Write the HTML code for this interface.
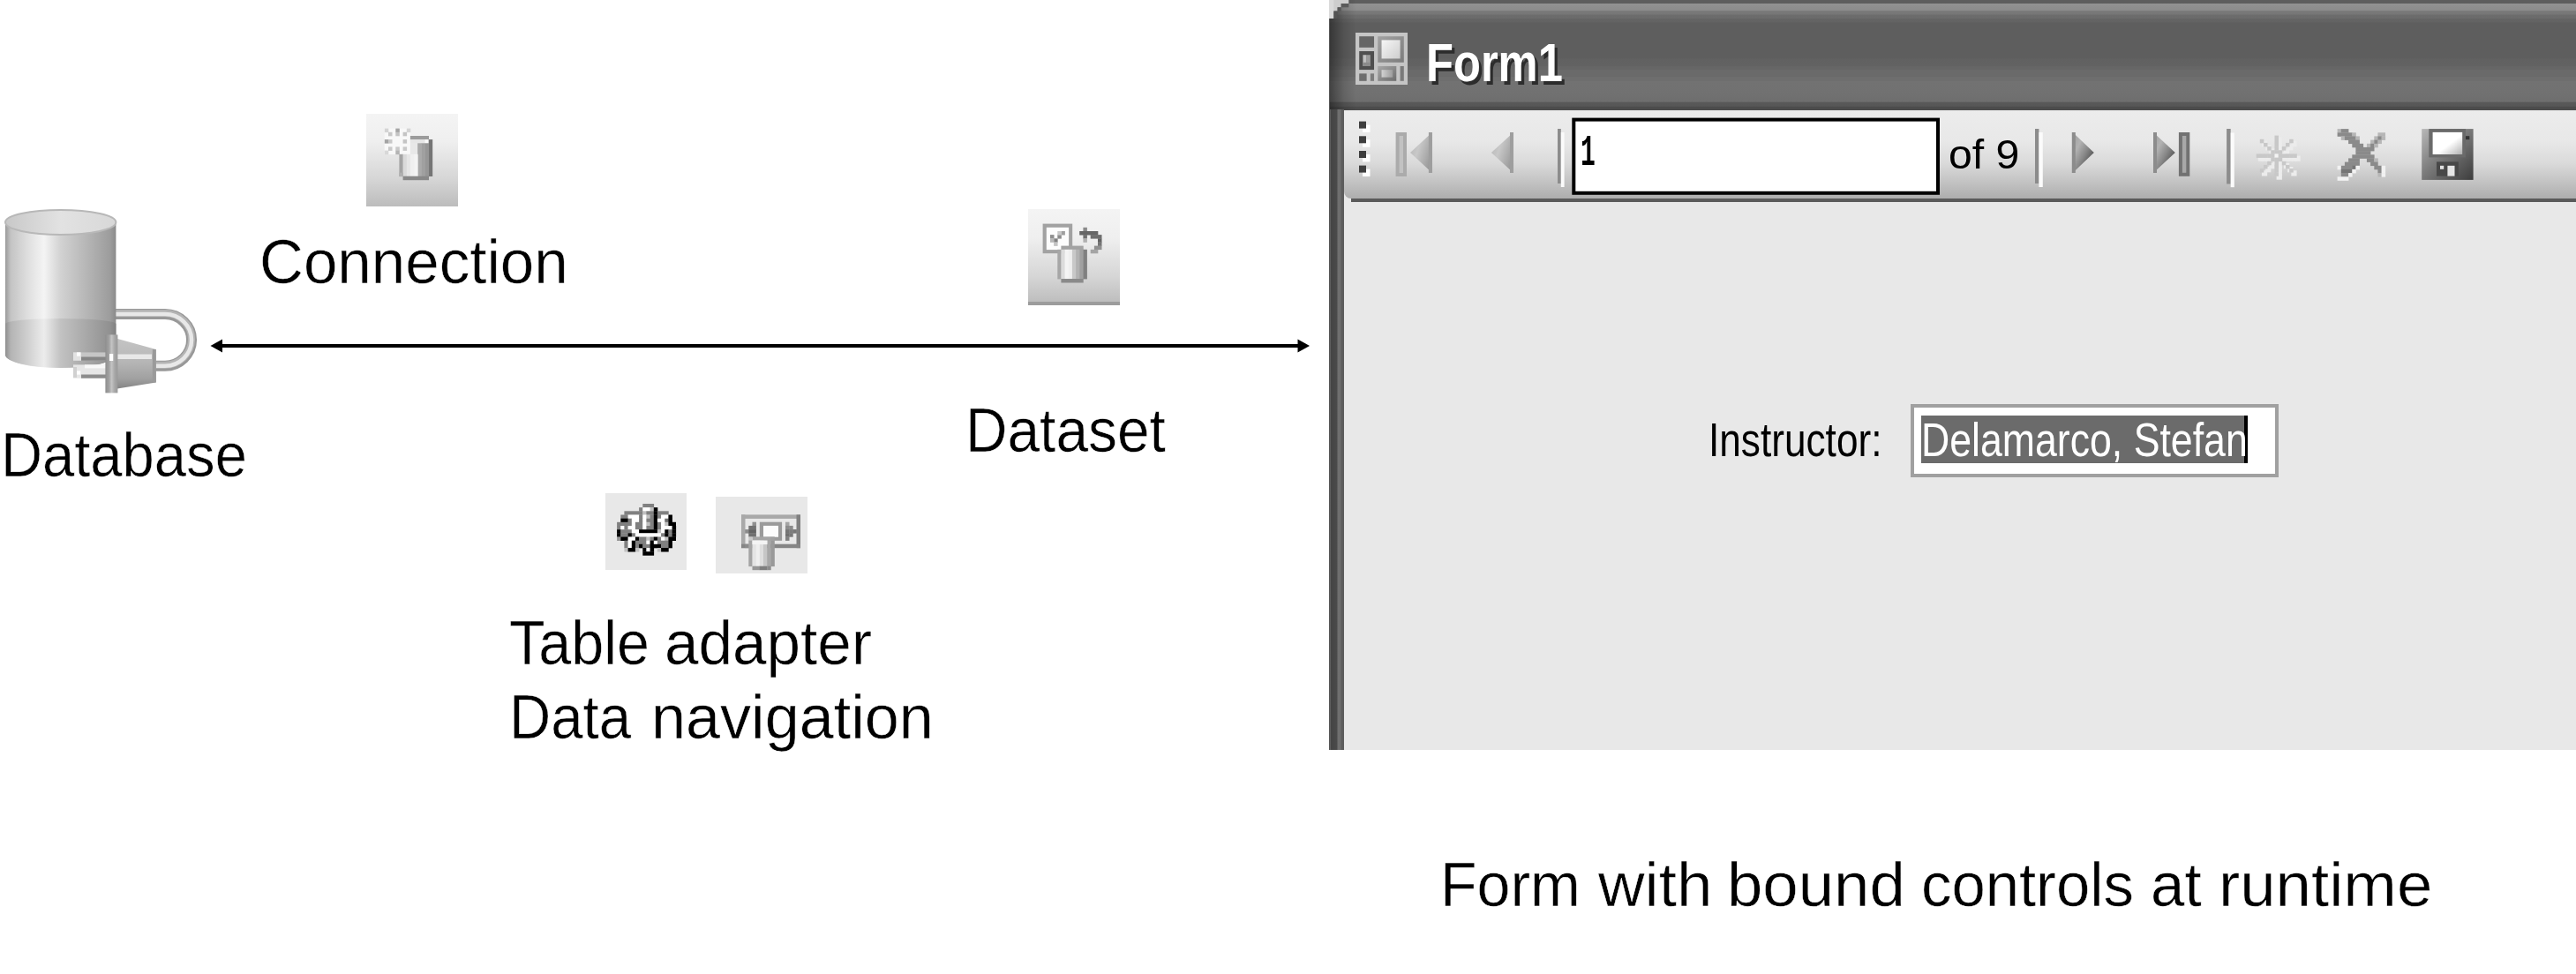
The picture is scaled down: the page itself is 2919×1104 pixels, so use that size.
<!DOCTYPE html>
<html lang="en">
<head>
<meta charset="utf-8">
<title>Data binding diagram</title>
<style>
html,body{margin:0;padding:0;background:#fff;}
body{width:2919px;height:1104px;position:relative;overflow:hidden;font-family:"Liberation Sans",sans-serif;color:#000;}
.abs{position:absolute;}
.t{position:absolute;white-space:nowrap;line-height:1;transform-origin:0 0;font-size:70px;}
.w{position:absolute;top:0;transform-origin:0 0;white-space:nowrap;}
.seg{-webkit-text-stroke:0.5px #fff;}
.ib{position:absolute;}
svg{position:absolute;overflow:visible;}
/* form window */
#win{position:absolute;left:1507px;top:0;width:1412px;height:850px;background:#e8e8e8;overflow:hidden;}
#title{position:absolute;left:0;top:0;width:1412px;height:125px;
background:linear-gradient(to bottom,#5e5e5e 0,#5e5e5e 3.6px,#929292 4.4px,#8c8c8c 11.8px,#797979 12.6px,#777 16.2px,#6c6c6c 16.9px,#6b6b6b 20.8px,#646464 21.5px,#636363 25px,#5e5e5e 25.8px,#5e5e5e 66px,#616161 67px,#626262 75px,#666 75.6px,#666 79px,#6a6a6a 79.6px,#6a6a6a 87px,#6e6e6e 87.6px,#6e6e6e 91.5px,#727272 92.2px,#717171 106px,#6e6e6e 115px,#585858 116.5px,#575757 120.3px,#4c4c4c 121.3px,#4c4c4c 125px);}
#lborder{position:absolute;left:0;top:124px;width:16px;height:726px;background:linear-gradient(to right,#6a6a6a 0,#454545 1.5px,#4a4a4a 8px,#707070 9px,#6e6e6e 12px,#5c5c5c 13px,#5c5c5c 16px);}
#tool{position:absolute;left:16px;top:125px;width:1396px;height:100px;border-bottom-left-radius:8px;
background:linear-gradient(to bottom,#ececec 0,#e8e8e8 35px,#dadada 60px,#c2c2c2 82px,#adadad 100px);}
#toolshadow{position:absolute;left:24px;top:225px;width:1392px;height:4px;background:#5a5a5a;}
</style>
</head>
<body>

<!-- ===== left diagram ===== -->
<svg id="dbicon" style="left:0;top:230px" width="240" height="225" viewBox="0 230 240 225">
<defs>
<filter id="px" x="-5%" y="-5%" width="110%" height="110%"><feGaussianBlur stdDeviation="0.5"/></filter>
<linearGradient id="cyl" x1="0" x2="1" y1="0" y2="0">
<stop offset="0" stop-color="#9a9a9a"/><stop offset="0.05" stop-color="#c4c4c4"/><stop offset="0.2" stop-color="#dedede"/><stop offset="0.35" stop-color="#f4f4f4"/><stop offset="0.5" stop-color="#d2d2d2"/><stop offset="0.75" stop-color="#b4b4b4"/><stop offset="0.95" stop-color="#9c9c9c"/><stop offset="1" stop-color="#8a8a8a"/>
</linearGradient>
<linearGradient id="cyl2" x1="0" x2="1" y1="0" y2="0">
<stop offset="0" stop-color="#8e8e8e"/><stop offset="0.05" stop-color="#b4b4b4"/><stop offset="0.2" stop-color="#cfcfcf"/><stop offset="0.35" stop-color="#ececec"/><stop offset="0.5" stop-color="#c2c2c2"/><stop offset="0.75" stop-color="#a6a6a6"/><stop offset="0.95" stop-color="#909090"/><stop offset="1" stop-color="#808080"/>
</linearGradient>
<linearGradient id="ctop" x1="0" x2="1" y1="0" y2="0">
<stop offset="0" stop-color="#c8c8c8"/><stop offset="0.5" stop-color="#e2e2e2"/><stop offset="1" stop-color="#d8d8d8"/>
</linearGradient>
<linearGradient id="plug" x1="0" x2="0" y1="0" y2="1">
<stop offset="0" stop-color="#c4c4c4"/><stop offset="0.3" stop-color="#bcbcbc"/><stop offset="0.5" stop-color="#b4b4b4"/><stop offset="0.8" stop-color="#a0a0a0"/><stop offset="1" stop-color="#848484"/>
</linearGradient>
<linearGradient id="plug2" x1="0" x2="1" y1="0" y2="0">
<stop offset="0" stop-color="#8e8e8e"/><stop offset="0.3" stop-color="#a2a2a2"/><stop offset="0.5" stop-color="#c4c4c4"/><stop offset="0.75" stop-color="#a8a8a8"/><stop offset="1" stop-color="#989898"/>
</linearGradient>
</defs>
<!-- cable loop -->
<path d="M131 356 H187 A30 29.3 0 0 1 187 414.700 H170" fill="none" stroke="#989898" stroke-width="12"/>
<path d="M131 355 H187 A30 29.3 0 0 1 187 413.700 H170" fill="none" stroke="#b4b4b4" stroke-width="8"/>
<path d="M131 356 H187 A30 29.3 0 0 1 187 414.700 H170" fill="none" stroke="#e8e8e8" stroke-width="4.500"/>
<!-- cylinder body -->
<path d="M6 252 V402 A62.5 15 0 0 0 131.400 402 V252 Z" fill="url(#cyl)"/>
<path d="M6 367 A62.7 6 0 0 1 131.400 367 V402 A62.7 15 0 0 1 6 402 Z" fill="url(#cyl2)"/>
<ellipse cx="68.7" cy="252" rx="62.7" ry="14" fill="url(#ctop)" stroke="#b8b8b8" stroke-width="2"/>
<!-- plug -->
<rect x="83" y="399.400" width="37" height="9.300" fill="#c6c6c6"/>
<rect x="92" y="404.500" width="28" height="4.200" fill="#868686"/>
<rect x="83" y="399.400" width="9" height="9.300" fill="#e2e2e2"/><rect x="87" y="399.400" width="4.200" height="4.200" fill="#fff"/>
<rect x="83" y="413.400" width="37" height="15.300" fill="#e6e6e6"/>
<rect x="92" y="424.500" width="28" height="4.200" fill="#8c8c8c"/>
<rect x="96" y="413.400" width="24" height="4" fill="#f8f8f8"/>
<rect x="87" y="420.400" width="4.200" height="4.200" fill="#fff"/><rect x="83" y="416" width="4" height="12" fill="#d0d0d0"/>
<path d="M131.400 383.400 L176.800 396 V433.400 L131.400 440.800 Z" fill="url(#plug)"/>
<path d="M131.400 401.500 H172 V407 H131.400 Z" fill="#f0f0f0" opacity="0.85"/>
<rect x="172.800" y="396" width="4" height="37.400" fill="#9a9a9a"/>
<rect x="119.400" y="379.400" width="14" height="66" fill="url(#plug2)"/>
<rect x="124" y="401" width="4.200" height="8" fill="#fff"/>
</svg>

<!-- arrow -->
<svg style="left:0;top:0" width="1500" height="420">
<rect x="250" y="390" width="1222" height="4" fill="#000"/>
<path d="M238.5 392 L252 384.5 V399.5 Z" fill="#000"/>
<path d="M1484 392 L1470.500 384.5 V399.5 Z" fill="#000"/>
</svg>

<!-- Connection icon -->
<div class="ib" id="ic1" style="left:415px;top:129px;width:104px;height:104.5px;background:linear-gradient(to bottom,#f4f4f4 0,#efefef 30%,#d6d6d6 70%,#bcbcbc 100%);"><svg style="left:0;top:0" width="104" height="104"><g filter="url(#px)"><rect x="20.8" y="16.6" width="29.4" height="29.4" fill="#f8f8f8"/><rect x="20.8" y="16.6" width="4.5" height="4.5" fill="#d4d4d4"/><rect x="45.8" y="16.6" width="4.5" height="4.5" fill="#d4d4d4"/><rect x="20.8" y="41.6" width="4.5" height="4.5" fill="#d8d8d8"/><rect x="33.3" y="16.6" width="4.5" height="4.5" fill="#a4a4a4"/><rect x="33.3" y="20.8" width="4.5" height="4.5" fill="#c4c4c4"/><rect x="20.8" y="29.1" width="4.5" height="4.5" fill="#a4a4a4"/><rect x="25.0" y="29.1" width="4.5" height="4.5" fill="#c8c8c8"/><rect x="41.6" y="29.1" width="4.5" height="4.5" fill="#c4c4c4"/><rect x="33.3" y="37.4" width="4.5" height="4.5" fill="#c8c8c8"/><rect x="33.3" y="41.6" width="4.5" height="4.5" fill="#b4b4b4"/><rect x="25.0" y="20.8" width="4.5" height="4.5" fill="#c8c8c8"/><rect x="41.6" y="20.8" width="4.5" height="4.5" fill="#c4c4c4"/><rect x="25.0" y="37.4" width="4.5" height="4.5" fill="#c8c8c8"/><rect x="41.6" y="37.4" width="4.5" height="4.5" fill="#c8c8c8"/><rect x="49.9" y="25.0" width="21.1" height="4.5" fill="#9c9c9c"/><rect x="49.9" y="29.1" width="16.9" height="4.5" fill="#e6e6e6"/><rect x="66.6" y="29.1" width="4.5" height="4.5" fill="#fafafa"/><rect x="70.7" y="29.1" width="4.5" height="41.9" fill="#747474"/><rect x="49.9" y="33.3" width="8.6" height="12.8" fill="#e8e8e8"/><rect x="58.2" y="33.3" width="4.5" height="37.7" fill="#aaaaaa"/><rect x="62.4" y="33.3" width="4.5" height="37.7" fill="#a0a0a0"/><rect x="66.6" y="33.3" width="4.5" height="37.7" fill="#969696"/><rect x="37.4" y="45.8" width="4.5" height="25.3" fill="#a4a4a4"/><rect x="41.6" y="45.8" width="4.5" height="25.3" fill="#dadada"/><rect x="45.8" y="45.8" width="4.5" height="25.3" fill="#e6e6e6"/><rect x="49.9" y="45.8" width="4.5" height="25.3" fill="#f0f0f0"/><rect x="54.1" y="45.8" width="4.5" height="25.3" fill="#f4f4f4"/><rect x="41.6" y="70.7" width="29.4" height="4.5" fill="#888888"/><rect x="37.4" y="66.6" width="4.5" height="4.5" fill="#b0b0b0"/></g></svg></div>
<!-- Dataset icon -->
<div class="ib" id="ic2" style="left:1165px;top:237px;width:104px;height:109px;background:linear-gradient(to bottom,#f4f4f4 0,#efefef 30%,#d6d6d6 70%,#bebebe 96%,#9c9c9c 96.5%,#9c9c9c 100%);"><svg style="left:0;top:0" width="104" height="108"><g filter="url(#px)"><rect x="16.6" y="16.6" width="33.6" height="33.6" fill="#a2a2a2"/><rect x="20.8" y="20.8" width="25.3" height="25.3" fill="#fdfdfd"/><rect x="25.0" y="29.1" width="4.5" height="4.5" fill="#909090"/><rect x="29.1" y="33.3" width="4.5" height="4.5" fill="#808080"/><rect x="33.3" y="29.1" width="4.5" height="4.5" fill="#8c8c8c"/><rect x="37.4" y="25.0" width="4.5" height="4.5" fill="#a0a0a0"/><rect x="25.0" y="33.3" width="4.5" height="4.5" fill="#b8b8b8"/><rect x="29.1" y="37.4" width="4.5" height="4.5" fill="#c4c4c4"/><rect x="33.3" y="25.0" width="4.5" height="4.5" fill="#c8c8c8"/><rect x="62.4" y="20.8" width="4.5" height="4.5" fill="#8a8a8a"/><rect x="58.2" y="25.0" width="21.1" height="4.5" fill="#666666"/><rect x="62.4" y="29.1" width="4.5" height="4.5" fill="#707070"/><rect x="70.7" y="29.1" width="12.8" height="4.5" fill="#6e6e6e"/><rect x="62.4" y="33.3" width="4.5" height="4.5" fill="#b0b0b0"/><rect x="79.0" y="33.3" width="4.5" height="4.5" fill="#646464"/><rect x="79.0" y="37.4" width="4.5" height="4.5" fill="#747474"/><rect x="74.9" y="41.6" width="8.6" height="4.5" fill="#909090"/><rect x="70.7" y="45.8" width="8.6" height="4.5" fill="#a4a4a4"/><rect x="37.4" y="41.6" width="25.3" height="4.5" fill="#a2a2a2"/><rect x="33.3" y="45.8" width="4.5" height="33.6" fill="#a6a6a6"/><rect x="37.4" y="45.8" width="4.5" height="33.6" fill="#dcdcdc"/><rect x="41.6" y="45.8" width="4.5" height="33.6" fill="#f4f4f4"/><rect x="45.8" y="45.8" width="4.5" height="33.6" fill="#efefef"/><rect x="49.9" y="45.8" width="4.5" height="33.6" fill="#c8c8c8"/><rect x="54.1" y="45.8" width="4.5" height="33.6" fill="#b2b2b2"/><rect x="58.2" y="45.8" width="4.5" height="33.6" fill="#a0a0a0"/><rect x="62.4" y="45.8" width="4.5" height="33.6" fill="#808080"/><rect x="37.4" y="79.0" width="25.3" height="4.5" fill="#8a8a8a"/></g></svg></div>
<!-- Gear icon -->
<div class="ib" id="ic3" style="left:685.5px;top:559px;width:92px;height:87px;background:#e8e8e8;"><svg style="left:0;top:0" width="92" height="87"><g filter="url(#px)"><rect x="42.3" y="12.0" width="12.8" height="4.5" fill="#808080"/><rect x="38.1" y="16.2" width="4.5" height="4.5" fill="#808080"/><rect x="42.3" y="16.2" width="8.6" height="4.5" fill="#ffffff"/><rect x="50.6" y="16.2" width="4.5" height="4.5" fill="#c0c0c0"/><rect x="54.8" y="16.2" width="4.5" height="4.5" fill="#000000"/><rect x="21.4" y="20.3" width="21.1" height="4.5" fill="#808080"/><rect x="42.3" y="20.3" width="4.5" height="4.5" fill="#c0c0c0"/><rect x="46.4" y="20.3" width="8.6" height="4.5" fill="#808080"/><rect x="54.8" y="20.3" width="4.5" height="4.5" fill="#000000"/><rect x="58.9" y="20.3" width="12.8" height="4.5" fill="#808080"/><rect x="17.3" y="24.5" width="8.6" height="4.5" fill="#808080"/><rect x="25.6" y="24.5" width="12.8" height="4.5" fill="#ffffff"/><rect x="38.1" y="24.5" width="4.5" height="4.5" fill="#808080"/><rect x="42.3" y="24.5" width="4.5" height="4.5" fill="#ffffff"/><rect x="46.4" y="24.5" width="4.5" height="4.5" fill="#c0c0c0"/><rect x="50.6" y="24.5" width="4.5" height="4.5" fill="#808080"/><rect x="54.8" y="24.5" width="4.5" height="4.5" fill="#000000"/><rect x="58.9" y="24.5" width="4.5" height="4.5" fill="#808080"/><rect x="63.1" y="24.5" width="8.6" height="4.5" fill="#ffffff"/><rect x="71.4" y="24.5" width="4.5" height="4.5" fill="#000000"/><rect x="17.3" y="28.7" width="8.6" height="4.5" fill="#000000"/><rect x="25.6" y="28.7" width="4.5" height="4.5" fill="#808080"/><rect x="29.8" y="28.7" width="8.6" height="4.5" fill="#ffffff"/><rect x="38.1" y="28.7" width="4.5" height="4.5" fill="#808080"/><rect x="42.3" y="28.7" width="4.5" height="4.5" fill="#ffffff"/><rect x="46.4" y="28.7" width="8.6" height="4.5" fill="#808080"/><rect x="54.8" y="28.7" width="4.5" height="4.5" fill="#000000"/><rect x="58.9" y="28.7" width="8.6" height="4.5" fill="#ffffff"/><rect x="67.3" y="28.7" width="4.5" height="4.5" fill="#707070"/><rect x="71.4" y="28.7" width="4.5" height="4.5" fill="#000000"/><rect x="13.1" y="32.8" width="17.0" height="4.5" fill="#808080"/><rect x="29.8" y="32.8" width="4.5" height="4.5" fill="#ffffff"/><rect x="33.9" y="32.8" width="8.6" height="4.5" fill="#808080"/><rect x="42.3" y="32.8" width="4.5" height="4.5" fill="#ffffff"/><rect x="46.4" y="32.8" width="4.5" height="4.5" fill="#c0c0c0"/><rect x="50.6" y="32.8" width="4.5" height="4.5" fill="#808080"/><rect x="54.8" y="32.8" width="4.5" height="4.5" fill="#000000"/><rect x="58.9" y="32.8" width="4.5" height="4.5" fill="#808080"/><rect x="63.1" y="32.8" width="4.5" height="4.5" fill="#ffffff"/><rect x="67.3" y="32.8" width="4.5" height="4.5" fill="#c0c0c0"/><rect x="71.4" y="32.8" width="8.6" height="4.5" fill="#000000"/><rect x="13.1" y="37.0" width="4.5" height="4.5" fill="#808080"/><rect x="17.3" y="37.0" width="4.5" height="4.5" fill="#ffffff"/><rect x="21.4" y="37.0" width="4.5" height="4.5" fill="#808080"/><rect x="25.6" y="37.0" width="8.6" height="4.5" fill="#ffffff"/><rect x="33.9" y="37.0" width="8.6" height="4.5" fill="#808080"/><rect x="42.3" y="37.0" width="4.5" height="4.5" fill="#ffffff"/><rect x="46.4" y="37.0" width="8.6" height="4.5" fill="#808080"/><rect x="54.8" y="37.0" width="4.5" height="4.5" fill="#000000"/><rect x="58.9" y="37.0" width="4.5" height="4.5" fill="#808080"/><rect x="63.1" y="37.0" width="12.8" height="4.5" fill="#ffffff"/><rect x="75.6" y="37.0" width="4.5" height="4.5" fill="#000000"/><rect x="13.1" y="41.2" width="4.5" height="4.5" fill="#000000"/><rect x="17.3" y="41.2" width="12.8" height="4.5" fill="#808080"/><rect x="29.8" y="41.2" width="8.6" height="4.5" fill="#ffffff"/><rect x="38.1" y="41.2" width="21.1" height="4.5" fill="#000000"/><rect x="58.9" y="41.2" width="4.5" height="4.5" fill="#c0c0c0"/><rect x="63.1" y="41.2" width="4.5" height="4.5" fill="#ffffff"/><rect x="67.3" y="41.2" width="4.5" height="4.5" fill="#000000"/><rect x="71.4" y="41.2" width="4.5" height="4.5" fill="#808080"/><rect x="75.6" y="41.2" width="4.5" height="4.5" fill="#000000"/><rect x="13.1" y="45.3" width="4.5" height="4.5" fill="#000000"/><rect x="17.3" y="45.3" width="8.6" height="4.5" fill="#808080"/><rect x="25.6" y="45.3" width="4.5" height="4.5" fill="#000000"/><rect x="29.8" y="45.3" width="4.5" height="4.5" fill="#808080"/><rect x="33.9" y="45.3" width="29.5" height="4.5" fill="#ffffff"/><rect x="63.1" y="45.3" width="4.5" height="4.5" fill="#808080"/><rect x="67.3" y="45.3" width="4.5" height="4.5" fill="#000000"/><rect x="71.4" y="45.3" width="4.5" height="4.5" fill="#808080"/><rect x="75.6" y="45.3" width="4.5" height="4.5" fill="#000000"/><rect x="13.1" y="49.5" width="4.5" height="4.5" fill="#949494"/><rect x="17.3" y="49.5" width="8.6" height="4.5" fill="#000000"/><rect x="25.6" y="49.5" width="8.6" height="4.5" fill="#ffffff"/><rect x="33.9" y="49.5" width="4.5" height="4.5" fill="#000000"/><rect x="38.1" y="49.5" width="8.6" height="4.5" fill="#808080"/><rect x="46.4" y="49.5" width="4.5" height="4.5" fill="#c0c0c0"/><rect x="50.6" y="49.5" width="4.5" height="4.5" fill="#808080"/><rect x="54.8" y="49.5" width="4.5" height="4.5" fill="#000000"/><rect x="58.9" y="49.5" width="4.5" height="4.5" fill="#808080"/><rect x="63.1" y="49.5" width="4.5" height="4.5" fill="#ffffff"/><rect x="67.3" y="49.5" width="4.5" height="4.5" fill="#c0c0c0"/><rect x="71.4" y="49.5" width="8.6" height="4.5" fill="#000000"/><rect x="21.4" y="53.7" width="4.5" height="4.5" fill="#808080"/><rect x="25.6" y="53.7" width="4.5" height="4.5" fill="#ffffff"/><rect x="29.8" y="53.7" width="4.5" height="4.5" fill="#000000"/><rect x="33.9" y="53.7" width="12.8" height="4.5" fill="#808080"/><rect x="46.4" y="53.7" width="4.5" height="4.5" fill="#ffffff"/><rect x="50.6" y="53.7" width="4.5" height="4.5" fill="#000000"/><rect x="54.8" y="53.7" width="4.5" height="4.5" fill="#ffffff"/><rect x="58.9" y="53.7" width="12.8" height="4.5" fill="#808080"/><rect x="71.4" y="53.7" width="4.5" height="4.5" fill="#000000"/><rect x="21.4" y="57.8" width="4.5" height="4.5" fill="#808080"/><rect x="25.6" y="57.8" width="4.5" height="4.5" fill="#ffffff"/><rect x="29.8" y="57.8" width="4.5" height="4.5" fill="#000000"/><rect x="33.9" y="57.8" width="4.5" height="4.5" fill="#808080"/><rect x="38.1" y="57.8" width="4.5" height="4.5" fill="#000000"/><rect x="42.3" y="57.8" width="8.6" height="4.5" fill="#808080"/><rect x="50.6" y="57.8" width="12.8" height="4.5" fill="#000000"/><rect x="63.1" y="57.8" width="8.6" height="4.5" fill="#808080"/><rect x="71.4" y="57.8" width="4.5" height="4.5" fill="#000000"/><rect x="21.4" y="62.0" width="4.5" height="4.5" fill="#c0c0c0"/><rect x="25.6" y="62.0" width="8.6" height="4.5" fill="#000000"/><rect x="33.9" y="62.0" width="4.5" height="4.5" fill="#c0c0c0"/><rect x="42.3" y="62.0" width="4.5" height="4.5" fill="#000000"/><rect x="46.4" y="62.0" width="4.5" height="4.5" fill="#ffffff"/><rect x="50.6" y="62.0" width="4.5" height="4.5" fill="#000000"/><rect x="58.9" y="62.0" width="4.5" height="4.5" fill="#c0c0c0"/><rect x="63.1" y="62.0" width="8.6" height="4.5" fill="#000000"/><rect x="42.3" y="66.2" width="12.8" height="4.5" fill="#000000"/></g></svg></div>
<!-- Nav icon -->
<div class="ib" id="ic4" style="left:811px;top:563px;width:104px;height:87px;background:#e8e8e8;"><svg style="left:0;top:0" width="104" height="87"><g filter="url(#px)"><rect x="29.0" y="20.4" width="67.0" height="4.5" fill="#a8a8a8"/><rect x="29.0" y="20.4" width="4.5" height="37.8" fill="#a8a8a8"/><rect x="91.5" y="20.4" width="4.5" height="37.8" fill="#808080"/><rect x="29.0" y="53.7" width="67.0" height="4.5" fill="#858585"/><rect x="33.2" y="53.7" width="4.5" height="4.5" fill="#8c8c8c"/><rect x="41.5" y="28.7" width="4.5" height="4.5" fill="#909090"/><rect x="37.3" y="32.9" width="8.6" height="4.5" fill="#727272"/><rect x="33.2" y="37.1" width="4.5" height="4.5" fill="#8c8c8c"/><rect x="37.3" y="37.1" width="8.6" height="4.5" fill="#646464"/><rect x="37.3" y="41.2" width="8.6" height="4.5" fill="#707070"/><rect x="49.8" y="28.7" width="25.3" height="21.1" fill="#9a9a9a"/><rect x="54.0" y="32.9" width="17.0" height="12.8" fill="#fcfcfc"/><rect x="79.0" y="28.7" width="4.5" height="4.5" fill="#a4a4a4"/><rect x="79.0" y="32.9" width="4.5" height="4.5" fill="#8c8c8c"/><rect x="79.0" y="37.1" width="4.5" height="4.5" fill="#747474"/><rect x="79.0" y="41.2" width="4.5" height="4.5" fill="#707070"/><rect x="79.0" y="45.4" width="4.5" height="4.5" fill="#808080"/><rect x="83.2" y="32.9" width="4.5" height="4.5" fill="#8a8a8a"/><rect x="83.2" y="37.1" width="4.5" height="4.5" fill="#7c7c7c"/><rect x="83.2" y="41.2" width="4.5" height="4.5" fill="#787878"/><rect x="87.3" y="37.1" width="4.5" height="4.5" fill="#767676"/><rect x="41.5" y="45.4" width="21.1" height="4.5" fill="#a4a4a4"/><rect x="37.3" y="45.4" width="4.5" height="4.5" fill="#c8c8c8"/><rect x="37.3" y="49.6" width="4.5" height="29.5" fill="#a4a4a4"/><rect x="41.5" y="49.6" width="4.5" height="29.5" fill="#e4e4e4"/><rect x="45.7" y="49.6" width="4.5" height="29.5" fill="#efefef"/><rect x="49.8" y="49.6" width="4.5" height="29.5" fill="#dedede"/><rect x="54.0" y="49.6" width="4.5" height="29.5" fill="#c6c6c6"/><rect x="58.2" y="49.6" width="4.5" height="29.5" fill="#a8a8a8"/><rect x="62.3" y="49.6" width="4.5" height="29.5" fill="#999999"/><rect x="41.5" y="49.6" width="17.0" height="4.5" fill="#f4f4f4"/><rect x="62.3" y="45.4" width="4.5" height="4.5" fill="#a0a0a0"/><rect x="41.5" y="78.7" width="8.6" height="4.5" fill="#969696"/><rect x="49.8" y="78.7" width="8.6" height="4.5" fill="#7e7e7e"/><rect x="58.2" y="78.7" width="4.5" height="4.5" fill="#8c8c8c"/></g></svg></div>

<span class="t seg" id="tConn" style="left:294.3px;top:262.0px;transform:scaleX(0.9876);">Connection</span>
<span class="t seg" id="tDb" style="left:0.6px;top:480.5px;transform:scaleX(0.9306);">Database</span>
<span class="t seg" id="tDs" style="left:1094.4px;top:453.0px;transform:scaleX(0.94);">Dataset</span>
<span class="t seg" id="tTa" style="left:0;top:694.4px;"><span class="w" id="wTa1" style="left:576.5px;transform:scaleX(0.9494);">Table</span> <span class="w" id="wTa2" style="left:753.4px;transform:scaleX(0.9897);">adapter</span></span>
<span class="t seg" id="tDn" style="left:0;top:777.7px;"><span class="w" id="wDn1" style="left:576.8px;transform:scaleX(0.9339);">Data</span> <span class="w" id="wDn2" style="left:738.4px;transform:scaleX(1.002);">navigation</span></span>
<span class="t seg" id="tCap" style="left:0;top:967.6px;"><span class="w" id="wC1" style="left:1631.8px;transform:scaleX(0.9723);">Form</span> <span class="w" id="wC2" style="left:1810.8px;transform:scaleX(1.0404);">with</span> <span class="w" id="wC3" style="left:1957.2px;transform:scaleX(1.0368);">bound</span> <span class="w" id="wC4" style="left:2176.6px;transform:scaleX(0.9833);">controls</span> <span class="w" id="wC5" style="left:2437.0px;transform:scaleX(0.9859);">at</span> <span class="w" id="wC6" style="left:2513.6px;transform:scaleX(1.0382);">runtime</span></span>

<!-- ===== form window ===== -->
<div class="abs" style="left:1506.2px;top:0;width:1px;height:21px;background:#dadada;"></div><div class="abs" style="left:1506.2px;top:21px;width:1px;height:829px;background:#555;"></div>
<div id="win">
<div id="title"></div>
<div class="abs" style="left:0;top:0;width:30px;height:125px;background:linear-gradient(to right,rgba(0,0,0,0.42) 0,rgba(0,0,0,0.3) 6px,rgba(0,0,0,0.12) 16px,rgba(0,0,0,0) 30px);"></div>
<svg style="left:0;top:0" width="30" height="30"><path d="M0 0 H21.3 V4 H12.7 V8.3 H8.6 V12.6 H4.3 V21 H0 Z" fill="#cdcdcd"/><path d="M-0.8 0 H4.3 V21 H-0.8 Z" fill="#dadada"/><rect x="12.7" y="4" width="8.6" height="4.3" fill="#5a5a5a"/><rect x="8.6" y="8.3" width="4.1" height="4.3" fill="#585858"/><rect x="4.3" y="12.6" width="4.3" height="8.4" fill="#545454"/></svg>
<div id="lborder"></div>
<div id="tool"></div>
<div id="toolshadow"></div>
<!-- title icon -->
<svg style="left:28.6px;top:37.2px" width="59" height="59" viewBox="0 0 58.9 58.9"><g filter="url(#px)"><defs><linearGradient id="tg1" x1="0" y1="0" x2="1" y2="1"><stop offset="0" stop-color="#f6f6f6"/><stop offset="1" stop-color="#cecece"/></linearGradient><linearGradient id="tg2" x1="0" y1="0" x2="1" y2="1"><stop offset="0" stop-color="#a2a2a2"/><stop offset="1" stop-color="#7c7c7c"/></linearGradient><linearGradient id="tg3" x1="0" y1="0" x2="1" y2="1"><stop offset="0" stop-color="#a8a8a8"/><stop offset="1" stop-color="#6c6c6c"/></linearGradient><linearGradient id="tg4" x1="0" y1="0" x2="1" y2="0"><stop offset="0" stop-color="#d2d2d2"/><stop offset="1" stop-color="#9c9c9c"/></linearGradient></defs><rect x="0.0" y="0.0" width="58.9" height="58.9" fill="#c5c5c5"/><rect x="4.2" y="4.2" width="16.8" height="12.6" fill="#656565"/><rect x="25.2" y="4.2" width="29.5" height="29.5" fill="url(#tg2)"/><rect x="29.5" y="8.4" width="21.0" height="21.0" fill="url(#tg1)"/><rect x="4.2" y="21.0" width="16.8" height="21.0" fill="#505050"/><rect x="8.4" y="25.2" width="4.2" height="12.6" fill="#c0c0c0"/><rect x="12.6" y="25.2" width="4.2" height="12.6" fill="#9c9c9c"/><rect x="8.4" y="33.7" width="8.4" height="4.2" fill="#8c8c8c"/><rect x="4.2" y="46.3" width="8.4" height="8.4" fill="#6e6e6e"/><rect x="16.8" y="46.3" width="4.2" height="8.4" fill="#7c7c7c"/><rect x="25.2" y="37.9" width="21.0" height="16.8" fill="url(#tg3)"/><rect x="29.5" y="42.1" width="12.6" height="8.4" fill="url(#tg4)"/><rect x="50.5" y="37.9" width="4.2" height="16.8" fill="#7a7a7a"/></g></svg>
<span class="t" id="tForm" style="left:108.5px;top:40.5px;font-size:61px;font-weight:bold;color:#fff;text-shadow:4px 4px 0 #2c2c2c;transform:scaleX(0.8304);">Form1</span>
<!-- toolbar -->
<svg style="left:0;top:0" width="1412" height="240" id="tbsvg">
<defs>
<linearGradient id="dis" x1="0" y1="0" x2="1" y2="0.6"><stop offset="0" stop-color="#b4b4b4"/><stop offset="0.45" stop-color="#c8c8c8"/><stop offset="0.8" stop-color="#ababab"/><stop offset="1" stop-color="#9a9a9a"/></linearGradient>
<linearGradient id="ena" x1="0" y1="0" x2="1" y2="1"><stop offset="0" stop-color="#9c9c9c"/><stop offset="0.3" stop-color="#b2b2b2"/><stop offset="0.55" stop-color="#888888"/><stop offset="0.75" stop-color="#5e5e5e"/><stop offset="1" stop-color="#5a5a5a"/></linearGradient>
<linearGradient id="sav" x1="0" y1="0" x2="1" y2="1"><stop offset="0" stop-color="#b8b8b8"/><stop offset="0.45" stop-color="#7c7c7c"/><stop offset="1" stop-color="#3c3c3c"/></linearGradient>
<linearGradient id="lab" x1="0" y1="0" x2="1" y2="1"><stop offset="0" stop-color="#fff"/><stop offset="0.55" stop-color="#fff"/><stop offset="1" stop-color="#b0b0b0"/></linearGradient>
</defs>
<!-- grip -->
<g fill="#fff"><rect x="37" y="141.6" width="8.5" height="8.4"/><rect x="37" y="158.3" width="8.5" height="8.4"/><rect x="37" y="175" width="8.5" height="8.4"/><rect x="37" y="191.6" width="8.5" height="8.4"/></g>
<g fill="#3e3e3e"><rect x="33" y="137.6" width="8" height="8"/><rect x="33" y="154.3" width="8" height="8"/><rect x="33" y="171" width="8" height="8"/><rect x="33" y="187.6" width="8" height="8"/></g>
<!-- first -->
<rect x="74.6" y="150" width="12.4" height="50" fill="#ababab"/><rect x="78.6" y="154" width="4.4" height="42" fill="#c2c2c2"/>
<path d="M91 173 L115.900 150 V196 Z" fill="url(#dis)"/><rect x="111.900" y="150" width="4" height="46" fill="#9e9e9e"/>
<!-- prev -->
<path d="M182.900 173 L208 150 V196 Z" fill="url(#dis)"/><rect x="204" y="150" width="4" height="46" fill="#9e9e9e"/>
<!-- sep -->
<rect x="258" y="146" width="3.8" height="62" fill="#8c8c8c"/><rect x="261.8" y="150" width="3.8" height="62" fill="#fbfbfb"/>
<!-- input -->
<rect x="276.3" y="135.6" width="412.7" height="83.2" fill="#fff" stroke="#000" stroke-width="4"/>
<!-- sep -->
<rect x="799" y="146" width="4.4" height="62" fill="#8c8c8c"/><rect x="803.4" y="150" width="4.4" height="62" fill="#fbfbfb"/>
<!-- next -->
<path d="M865.8 173 L841.7 150 V196 Z" fill="url(#ena)"/><rect x="840.8" y="150" width="4" height="46" fill="#8c8c8c"/>
<!-- last -->
<path d="M957.8 173 L933 150 V196 Z" fill="url(#ena)"/><rect x="933" y="150" width="4" height="46" fill="#8c8c8c"/>
<rect x="961.900" y="150" width="12.400" height="49.800" fill="#727272"/><rect x="965.900" y="154" width="4.400" height="41.800" fill="#a8a8a8"/>
<!-- sep -->
<rect x="1016.1" y="146" width="4.6" height="62.5" fill="#8c8c8c"/><rect x="1020.7" y="150.5" width="4.1" height="61.7" fill="#fbfbfb"/>
<!-- asterisk -->
<g filter="url(#px)"><rect x="1051.8" y="176.5" width="6.3" height="6.3" fill="#ececec"/><rect x="1055.9" y="159.9" width="6.3" height="6.3" fill="#ececec"/><rect x="1055.9" y="176.5" width="6.3" height="6.3" fill="#ececec"/><rect x="1055.9" y="193.2" width="6.3" height="6.3" fill="#ececec"/><rect x="1060.1" y="164.0" width="6.3" height="6.3" fill="#ececec"/><rect x="1060.1" y="176.5" width="6.3" height="6.3" fill="#ececec"/><rect x="1060.1" y="189.0" width="6.3" height="6.3" fill="#ececec"/><rect x="1064.3" y="168.2" width="6.3" height="6.3" fill="#ececec"/><rect x="1064.3" y="176.5" width="6.3" height="6.3" fill="#ececec"/><rect x="1064.3" y="184.9" width="6.3" height="6.3" fill="#ececec"/><rect x="1068.4" y="172.4" width="6.3" height="6.3" fill="#ececec"/><rect x="1068.4" y="176.5" width="6.3" height="6.3" fill="#ececec"/><rect x="1068.4" y="180.7" width="6.3" height="6.3" fill="#ececec"/><rect x="1072.6" y="155.7" width="6.3" height="6.3" fill="#ececec"/><rect x="1072.6" y="159.9" width="6.3" height="6.3" fill="#ececec"/><rect x="1072.6" y="164.0" width="6.3" height="6.3" fill="#ececec"/><rect x="1072.6" y="168.2" width="6.3" height="6.3" fill="#ececec"/><rect x="1072.6" y="172.4" width="6.3" height="6.3" fill="#ececec"/><rect x="1072.6" y="176.5" width="6.3" height="6.3" fill="#ececec"/><rect x="1072.6" y="180.7" width="6.3" height="6.3" fill="#ececec"/><rect x="1072.6" y="184.9" width="6.3" height="6.3" fill="#ececec"/><rect x="1072.6" y="189.0" width="6.3" height="6.3" fill="#ececec"/><rect x="1072.6" y="193.2" width="6.3" height="6.3" fill="#ececec"/><rect x="1072.6" y="197.4" width="6.3" height="6.3" fill="#ececec"/><rect x="1076.8" y="172.4" width="6.3" height="6.3" fill="#ececec"/><rect x="1076.8" y="176.5" width="6.3" height="6.3" fill="#ececec"/><rect x="1076.8" y="180.7" width="6.3" height="6.3" fill="#ececec"/><rect x="1080.9" y="168.2" width="6.3" height="6.3" fill="#ececec"/><rect x="1080.9" y="176.5" width="6.3" height="6.3" fill="#ececec"/><rect x="1080.9" y="184.9" width="6.3" height="6.3" fill="#ececec"/><rect x="1085.1" y="164.0" width="6.3" height="6.3" fill="#ececec"/><rect x="1085.1" y="176.5" width="6.3" height="6.3" fill="#ececec"/><rect x="1085.1" y="189.0" width="6.3" height="6.3" fill="#ececec"/><rect x="1089.3" y="159.9" width="6.3" height="6.3" fill="#ececec"/><rect x="1089.3" y="176.5" width="6.3" height="6.3" fill="#ececec"/><rect x="1089.3" y="193.2" width="6.3" height="6.3" fill="#ececec"/><rect x="1093.4" y="176.5" width="6.3" height="6.3" fill="#ececec"/><rect x="1049.7" y="174.4" width="4.5" height="4.5" fill="#c8c8c8"/><rect x="1053.8" y="157.8" width="4.5" height="4.5" fill="#c8c8c8"/><rect x="1053.8" y="174.4" width="4.5" height="4.5" fill="#c8c8c8"/><rect x="1053.8" y="191.1" width="4.5" height="4.5" fill="#c8c8c8"/><rect x="1058.0" y="161.9" width="4.5" height="4.5" fill="#c8c8c8"/><rect x="1058.0" y="174.4" width="4.5" height="4.5" fill="#c8c8c8"/><rect x="1058.0" y="186.9" width="4.5" height="4.5" fill="#c8c8c8"/><rect x="1062.2" y="166.1" width="4.5" height="4.5" fill="#c8c8c8"/><rect x="1062.2" y="174.4" width="4.5" height="4.5" fill="#c8c8c8"/><rect x="1062.2" y="182.8" width="4.5" height="4.5" fill="#c8c8c8"/><rect x="1066.3" y="170.3" width="4.5" height="4.5" fill="#c8c8c8"/><rect x="1066.3" y="174.4" width="4.5" height="4.5" fill="#c8c8c8"/><rect x="1066.3" y="178.6" width="4.5" height="4.5" fill="#c8c8c8"/><rect x="1070.5" y="153.6" width="4.5" height="4.5" fill="#c8c8c8"/><rect x="1070.5" y="157.8" width="4.5" height="4.5" fill="#c8c8c8"/><rect x="1070.5" y="161.9" width="4.5" height="4.5" fill="#c8c8c8"/><rect x="1070.5" y="166.1" width="4.5" height="4.5" fill="#c8c8c8"/><rect x="1070.5" y="170.3" width="4.5" height="4.5" fill="#c8c8c8"/><rect x="1070.5" y="174.4" width="4.5" height="4.5" fill="#f4f4f4"/><rect x="1070.5" y="178.6" width="4.5" height="4.5" fill="#c8c8c8"/><rect x="1070.5" y="182.8" width="4.5" height="4.5" fill="#c8c8c8"/><rect x="1070.5" y="186.9" width="4.5" height="4.5" fill="#c8c8c8"/><rect x="1070.5" y="191.1" width="4.5" height="4.5" fill="#c8c8c8"/><rect x="1070.5" y="195.3" width="4.5" height="4.5" fill="#c8c8c8"/><rect x="1074.7" y="170.3" width="4.5" height="4.5" fill="#c8c8c8"/><rect x="1074.7" y="174.4" width="4.5" height="4.5" fill="#c8c8c8"/><rect x="1074.7" y="178.6" width="4.5" height="4.5" fill="#c8c8c8"/><rect x="1078.8" y="166.1" width="4.5" height="4.5" fill="#c8c8c8"/><rect x="1078.8" y="174.4" width="4.5" height="4.5" fill="#c8c8c8"/><rect x="1078.8" y="182.8" width="4.5" height="4.5" fill="#c8c8c8"/><rect x="1083.0" y="161.9" width="4.5" height="4.5" fill="#c8c8c8"/><rect x="1083.0" y="174.4" width="4.5" height="4.5" fill="#c8c8c8"/><rect x="1083.0" y="186.9" width="4.5" height="4.5" fill="#c8c8c8"/><rect x="1087.2" y="157.8" width="4.5" height="4.5" fill="#c8c8c8"/><rect x="1087.2" y="174.4" width="4.5" height="4.5" fill="#c8c8c8"/><rect x="1087.2" y="191.1" width="4.5" height="4.5" fill="#c8c8c8"/><rect x="1091.3" y="174.4" width="4.5" height="4.5" fill="#c8c8c8"/></g>
<!-- X -->
<g filter="url(#px)"><rect x="1141.6" y="146.1" width="4.5" height="4.5" fill="#b6b6b6"/><rect x="1145.8" y="146.1" width="8.6" height="4.5" fill="#8a8a8a"/><rect x="1141.6" y="150.3" width="17.0" height="4.5" fill="#8a8a8a"/><rect x="1158.3" y="150.3" width="4.5" height="4.5" fill="#b6b6b6"/><rect x="1187.4" y="150.3" width="8.6" height="4.5" fill="#b6b6b6"/><rect x="1145.8" y="154.4" width="4.5" height="4.5" fill="#b6b6b6"/><rect x="1149.9" y="154.4" width="12.8" height="4.5" fill="#8a8a8a"/><rect x="1162.4" y="154.4" width="4.5" height="4.5" fill="#b6b6b6"/><rect x="1183.3" y="154.4" width="4.5" height="4.5" fill="#b6b6b6"/><rect x="1187.4" y="154.4" width="4.5" height="4.5" fill="#8a8a8a"/><rect x="1191.6" y="154.4" width="4.5" height="4.5" fill="#b6b6b6"/><rect x="1154.1" y="158.6" width="12.8" height="4.5" fill="#8a8a8a"/><rect x="1179.1" y="158.6" width="4.5" height="4.5" fill="#b6b6b6"/><rect x="1183.3" y="158.6" width="4.5" height="4.5" fill="#8a8a8a"/><rect x="1187.4" y="158.6" width="4.5" height="4.5" fill="#b6b6b6"/><rect x="1158.3" y="162.8" width="12.8" height="4.5" fill="#8a8a8a"/><rect x="1174.9" y="162.8" width="4.5" height="4.5" fill="#b6b6b6"/><rect x="1179.1" y="162.8" width="4.5" height="4.5" fill="#8a8a8a"/><rect x="1183.3" y="162.8" width="4.5" height="4.5" fill="#b6b6b6"/><rect x="1162.4" y="166.9" width="21.1" height="4.5" fill="#8a8a8a"/><rect x="1162.4" y="171.1" width="17.0" height="4.5" fill="#8a8a8a"/><rect x="1158.3" y="175.3" width="25.3" height="4.5" fill="#8a8a8a"/><rect x="1154.1" y="179.4" width="12.8" height="4.5" fill="#8a8a8a"/><rect x="1174.9" y="179.4" width="8.6" height="4.5" fill="#8a8a8a"/><rect x="1183.3" y="179.4" width="4.5" height="4.5" fill="#b6b6b6"/><rect x="1149.9" y="183.6" width="17.0" height="4.5" fill="#8a8a8a"/><rect x="1179.1" y="183.6" width="8.6" height="4.5" fill="#8a8a8a"/><rect x="1141.6" y="187.8" width="4.5" height="4.5" fill="#f2f2f2"/><rect x="1145.8" y="187.8" width="12.8" height="4.5" fill="#8a8a8a"/><rect x="1158.3" y="187.8" width="4.5" height="4.5" fill="#757575"/><rect x="1162.4" y="187.8" width="4.5" height="4.5" fill="#f2f2f2"/><rect x="1183.3" y="187.8" width="8.6" height="4.5" fill="#8a8a8a"/><rect x="1191.6" y="187.8" width="4.5" height="4.5" fill="#f2f2f2"/><rect x="1145.8" y="191.9" width="12.8" height="4.5" fill="#757575"/><rect x="1158.3" y="191.9" width="4.5" height="4.5" fill="#f2f2f2"/><rect x="1187.4" y="191.9" width="4.5" height="4.5" fill="#8a8a8a"/><rect x="1191.6" y="191.9" width="4.5" height="4.5" fill="#f2f2f2"/><rect x="1145.8" y="196.1" width="8.6" height="4.5" fill="#8a8a8a"/><rect x="1154.1" y="196.1" width="4.5" height="4.5" fill="#f2f2f2"/><rect x="1187.4" y="196.1" width="4.5" height="4.5" fill="#b6b6b6"/><rect x="1191.6" y="196.1" width="4.5" height="4.5" fill="#f2f2f2"/><rect x="1141.6" y="200.3" width="12.8" height="4.5" fill="#f2f2f2"/></g>
<!-- save -->
<rect x="1237.200" y="146.1" width="58.4" height="57.8" fill="url(#sav)"/>
<rect x="1245.300" y="146.1" width="41.6" height="32.3" fill="#6a6a6a"/>
<rect x="1249.600" y="149.900" width="33.6" height="25.100" fill="url(#lab)"/>
<rect x="1287" y="154.2" width="4.300" height="4" fill="#333"/>
<rect x="1254" y="183.400" width="24.8" height="16.2" fill="#484848"/>
<rect x="1266.400" y="187.800" width="8.1" height="11.8" fill="#e6e6e6"/>
<rect x="1258" y="187.800" width="4.2" height="4" fill="#e0e0e0"/>
</svg>
<span class="t" id="tOne" style="left:283.5px;top:149.3px;font-size:50px;font-weight:bold;font-family:'Liberation Mono',monospace;transform:scaleX(0.56);">1</span>
<span class="t" id="tOf" style="left:700.6px;top:151.0px;font-size:47px;transform:scaleX(1.0254);">of 9</span>
<!-- label + textbox -->
<span class="t" id="tIns" style="left:428.5px;top:470.9px;font-size:54px;transform:scaleX(0.8183);">Instructor:</span>
<div class="abs" id="tbox" style="left:658.2px;top:458.4px;width:408.5px;height:75px;background:#fff;border:4px solid #a0a0a0;"></div>
<div class="abs" id="sel" style="left:670.4px;top:470.7px;width:370px;height:54px;background:#6b6b6b;"></div>
<div class="abs" id="caret" style="left:1036.400px;top:470.7px;width:4px;height:54px;background:#000;"></div>
<span class="t" id="tDel" style="left:670.2px;top:470.9px;font-size:54px;color:#fff;transform:scaleX(0.8267);">Delamarco, Stefan</span>
</div>

</body>
</html>
